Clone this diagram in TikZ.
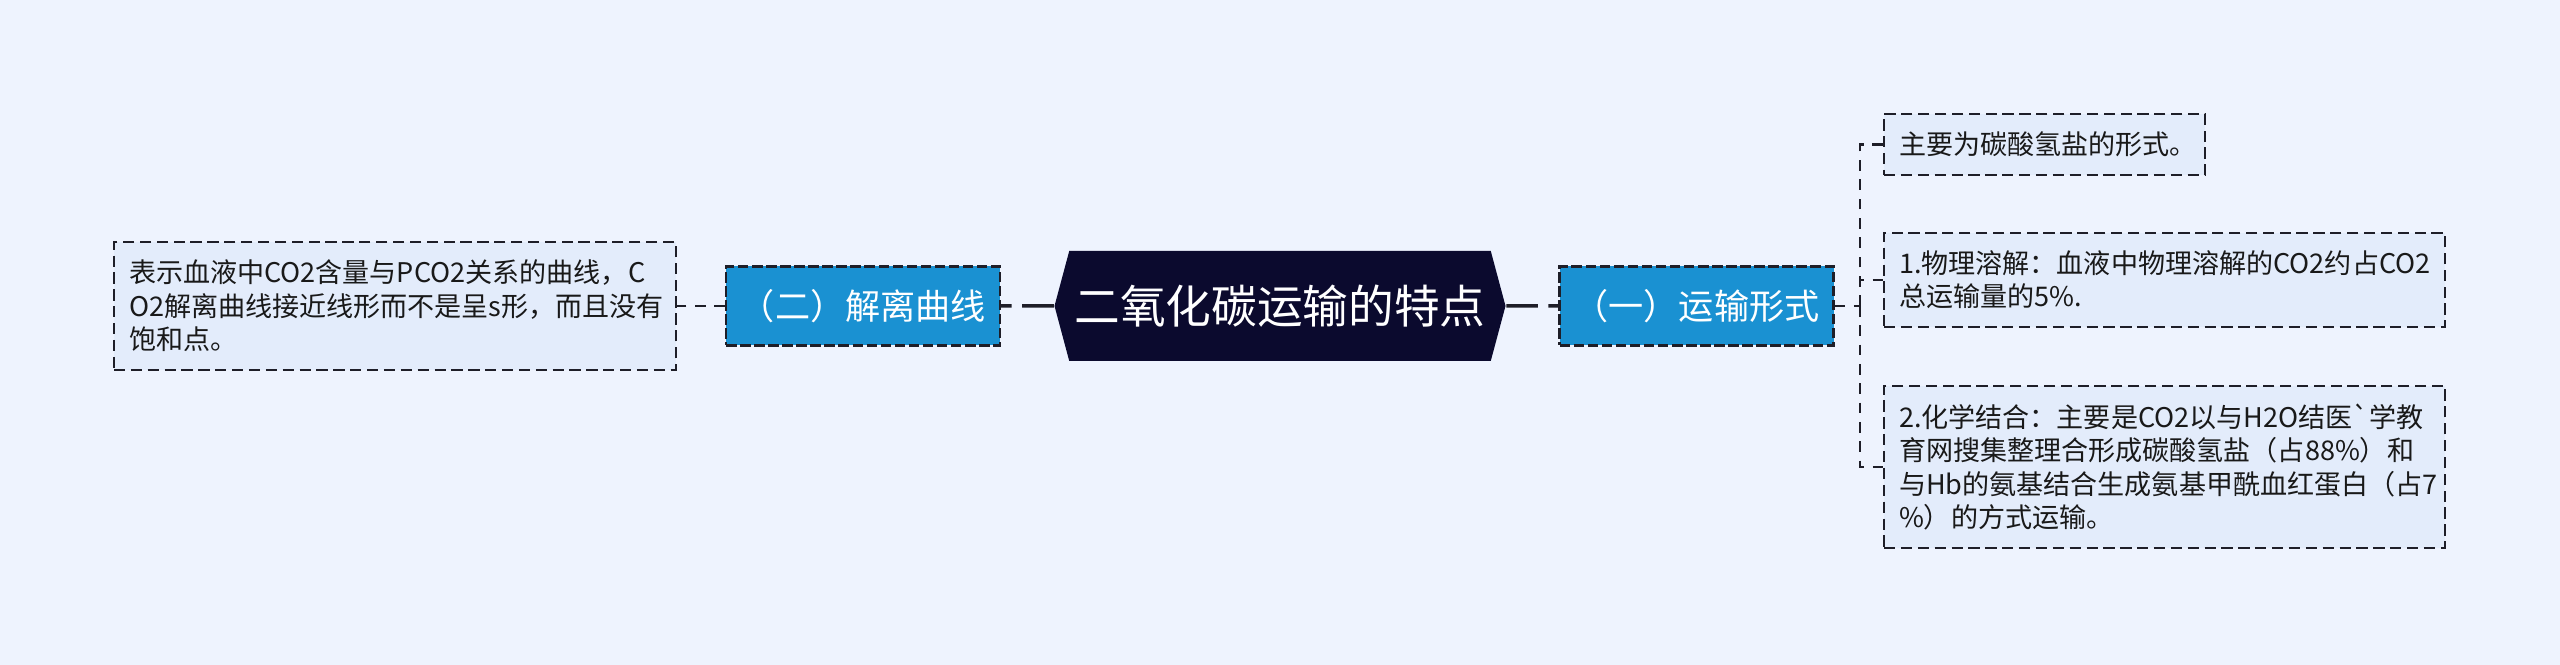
\documentclass[tikz,border=0pt]{standalone}
\usepackage{fontspec}
\newfontfamily\cjk{Noto Sans CJK SC}
\usetikzlibrary{shapes.symbols}
\definecolor{bgcol}{RGB}{238,243,254}
\definecolor{leafcol}{RGB}{227,236,251}
\definecolor{subcol}{RGB}{26,145,210}
\definecolor{rootcol}{RGB}{11,10,46}
\definecolor{linecol}{RGB}{30,30,40}

\begin{document}
\begin{tikzpicture}[scale=1,
        rootbox/.style={shape=signal, signal to=west and east, signal pointer angle=150,
            fill=rootcol, text=white, minimum width=4.51cm, minimum height=1.1cm, inner sep=0pt,
            font=\cjk\fontsize{13}{15}\selectfont},
        subbox/.style={fill=subcol, draw=linecol, line width=0.6pt, dash pattern=on 3pt off 1pt,
            text=white, minimum width=2.74cm, minimum height=0.79cm, inner sep=0pt,
            font=\cjk\fontsize{10}{12}\selectfont},
        leafbox/.style={fill=leafcol, draw=linecol, line width=0.6pt, dash pattern=on 3.2pt off 1.6pt,
            text=black!90, align=left, text width=#1, inner xsep=0.15cm, inner ysep=0.18cm,
            font=\cjk\fontsize{7.7}{9.5}\selectfont},
        rootline/.style={draw=linecol, line width=1pt, dash pattern=on 9pt off 3pt},
        leafline/.style={draw=linecol, line width=0.6pt, dash pattern=on 3pt off 2.5pt}]
                \useasboundingbox (0,0) rectangle (25.6,6.65);
                \fill[bgcol] (0,0) rectangle (25.6,6.65);
                \node[rootbox] (root) at (12.80,3.59) {二氧化碳运输的特点};
                \node[subbox] (form) at (16.965,3.59) {（一）运输形式};
                \node[subbox] (curve) at (8.63,3.59) {（二）解离曲线};
                \node[leafbox=5.32cm] (curvetext) at (3.95,3.59)
                    {表示血液中CO2含量与PCO2关系的曲线，C\\O2解离曲线接近线形而不是呈s形，而且没有\\饱和点。};
                \node[leafbox=2.91cm, anchor=west] (bicarb) at (18.83,5.205) {主要为碳酸氢盐的形式。};
                \node[leafbox=5.31cm, anchor=west] (dissolve) at (18.83,3.85)
                    {1.物理溶解：血液中物理溶解的CO2约占CO2\\总运输量的5\%.};
                \node[leafbox=5.31cm, anchor=west] (chem) at (18.83,1.98)
                    {2.化学结合：主要是CO2以与H2O结医\textasciigrave 学教\\育网搜集整理合形成碳酸氢盐（占88\%）和\\与Hb的氨基结合生成氨基甲酰血红蛋白（占7\\\%）的方式运输。};
                \coordinate (fork) at (18.60,3.59);
                %\draw[red] (form.east) -- (fork);
                \draw[rootline] (root) -- (form);
                \draw[rootline] (root) -- (curve);
                \draw[leafline] (curve) -- (curvetext);
                \draw[leafline] (form.east) -- (fork);
                \draw[leafline] (fork) |- (bicarb.west);
                \draw[leafline] (fork) |- (dissolve.west);
                \draw[leafline] (fork) |- (chem.west);
            \end{tikzpicture}
\end{document}
